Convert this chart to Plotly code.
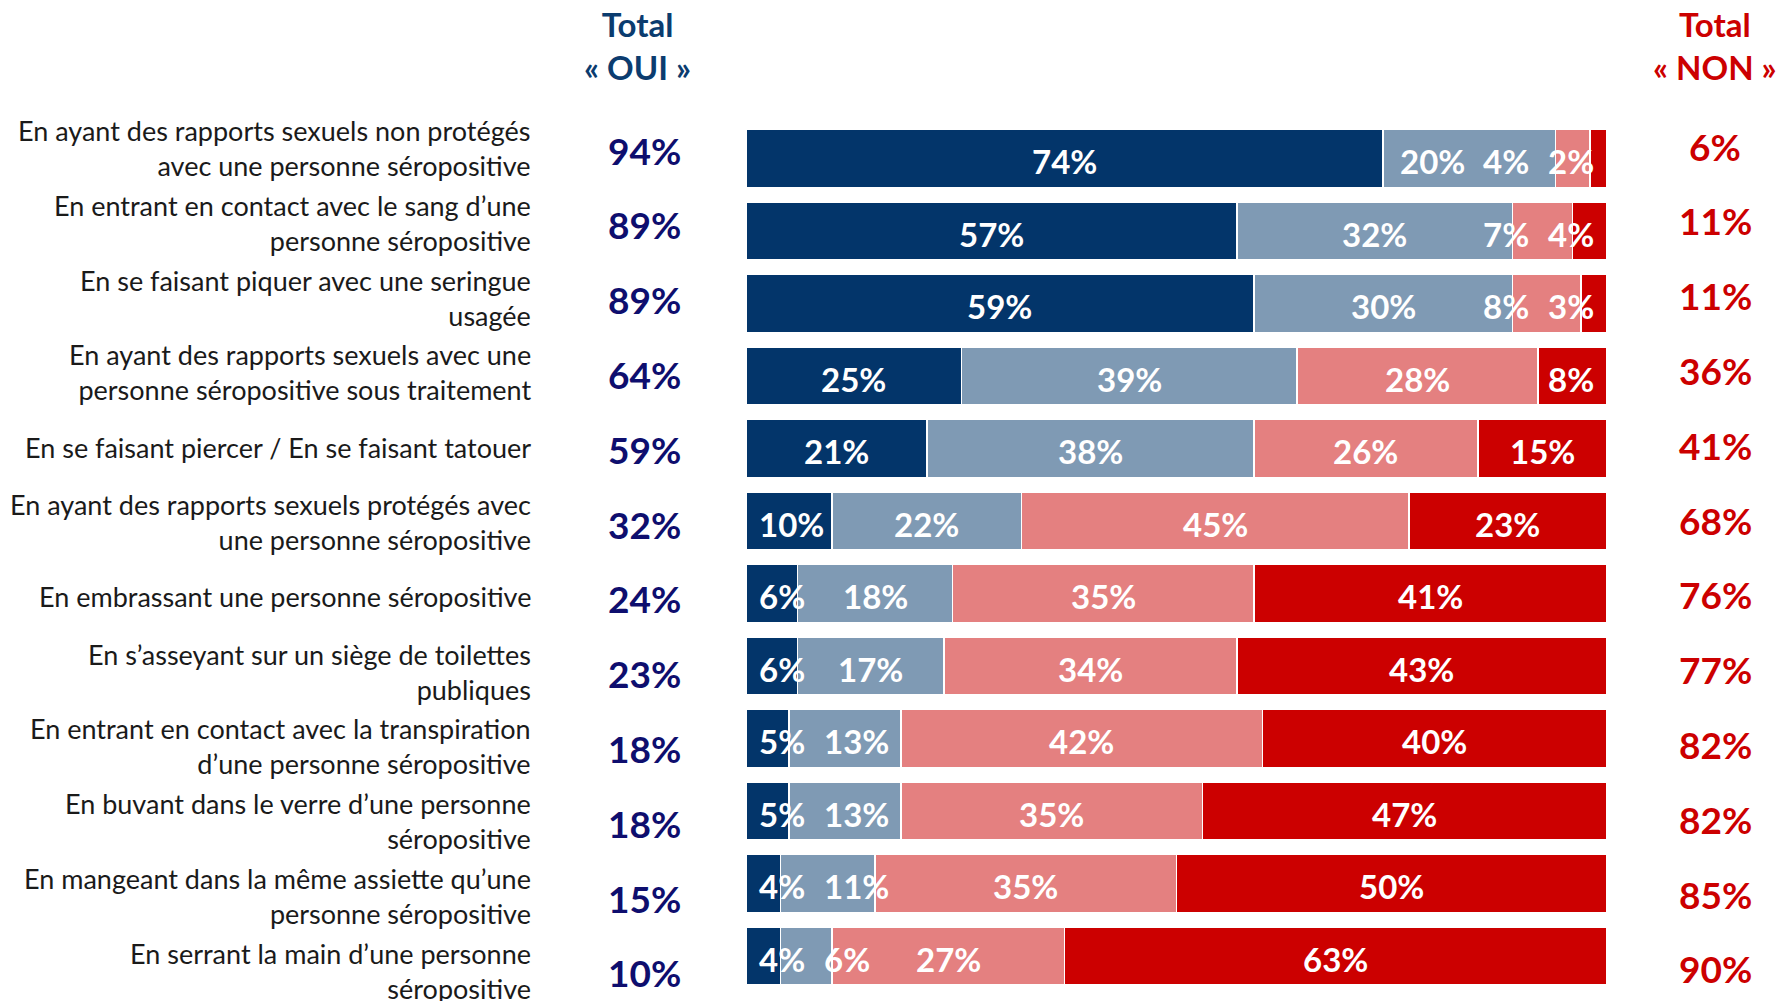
import plotly.graph_objects as go

# ---------------- data ----------------
categories = [
    "En ayant des rapports sexuels non protégés<br>avec une personne séropositive",
    "En entrant en contact avec le sang d’une<br>personne séropositive",
    "En se faisant piquer avec une seringue<br>usagée",
    "En ayant des rapports sexuels avec une<br>personne séropositive sous traitement",
    "En se faisant piercer / En se faisant tatouer",
    "En ayant des rapports sexuels protégés avec<br>une personne séropositive",
    "En embrassant une personne séropositive",
    "En s’asseyant sur un siège de toilettes<br>publiques",
    "En entrant en contact avec la transpiration<br>d’une personne séropositive",
    "En buvant dans le verre d’une personne<br>séropositive",
    "En mangeant dans la même assiette qu’une<br>personne séropositive",
    "En serrant la main d’une personne<br>séropositive",
]
oui_certain = [74, 57, 59, 25, 21, 10, 6, 6, 5, 5, 4, 4]
oui_plutot = [20, 32, 30, 39, 38, 22, 18, 17, 13, 13, 11, 6]
non_plutot = [4, 7, 8, 28, 26, 45, 35, 34, 42, 35, 35, 27]
non_certain = [2, 4, 3, 8, 15, 23, 41, 43, 40, 47, 50, 63]
total_oui = [94, 89, 89, 64, 59, 32, 24, 23, 18, 18, 15, 10]
total_non = [6, 11, 11, 36, 41, 68, 76, 77, 82, 82, 85, 90]

series = [oui_certain, oui_plutot, non_plutot, non_certain]
colors = ["#03356A", "#7F9AB4", "#E48080", "#CC0000"]

# ---------------- figure ----------------
W, H = 1777, 1001
ML, MR, MT, MB = 746, 170, 122, 9
plot_w = W - ML - MR
px_per_unit = plot_w / 100.0

FONT = "Lato"
fig = go.Figure()
n = len(categories)
idx = list(range(n))

for vals, col in zip(series, colors):
    fig.add_trace(go.Bar(
        x=vals, y=idx, orientation="h",
        marker=dict(color=col, line=dict(color="#FFFFFF", width=1.5)),
        hoverinfo="skip", showlegend=False,
    ))

annotations = []

# segment labels: start at segment centres, then nudge to avoid overlaps
LABEL_FS = 33
def label_w(v):
    s = f"{v}%"
    return (len(s) - 1) * 0.58 * LABEL_FS + 0.86 * LABEL_FS

pad, gap = 1.4, 2.0
for i in idx:
    vals = [s[i] for s in series]
    starts = [sum(vals[:k]) for k in range(4)]
    centers = [starts[k] + vals[k] / 2 for k in range(4)]
    widths = [label_w(v) / px_per_unit for v in vals]
    c = list(centers)
    c[0] = max(c[0], widths[0] / 2 + pad)
    for k in range(1, 4):
        c[k] = max(c[k], c[k - 1] + (widths[k - 1] + widths[k]) / 2 + gap)
    c[3] = min(c[3], 100 - widths[3] / 2 - pad)
    for k in range(2, -1, -1):
        c[k] = min(c[k], c[k + 1] - (widths[k] + widths[k + 1]) / 2 - gap)
    for k in range(4):
        annotations.append(dict(
            x=c[k], y=i, xref="x", yref="y", xanchor="center", yanchor="middle",
            yshift=-3, showarrow=False, text=f"<b>{vals[k]}%</b>",
            font=dict(family=FONT, size=LABEL_FS, color="#FFFFFF"),
        ))

for i in idx:
    annotations.append(dict(
        x=0, y=i, xref="x", yref="y2", xanchor="right", yanchor="middle",
        xshift=-213, align="right", showarrow=False, text=categories[i],
        font=dict(family=FONT, size=27, color="#1A1A1A"),
    ))
    annotations.append(dict(
        x=0, y=i, xref="x", yref="y2", xanchor="center", yanchor="middle",
        xshift=-102, yshift=-2, showarrow=False, text=f"<b>{total_oui[i]}%</b>",
        font=dict(family=FONT, size=37, color="#0E0E6E"),
    ))
    annotations.append(dict(
        x=100, y=i, xref="x", yref="y2", xanchor="center", yanchor="middle",
        xshift=108, yshift=2, showarrow=False, text=f"<b>{total_non[i]}%</b>",
        font=dict(family=FONT, size=37, color="#CC0000"),
    ))

plot_h = H - MT - MB
head_y = (H - MB - 45) / plot_h
annotations.append(dict(
    x=0, y=head_y, xref="x", yref="paper", xanchor="center", yanchor="middle",
    xshift=-109, showarrow=False, text="<b>Total<br>« OUI »</b>",
    font=dict(family=FONT, size=33, color="#0B3C6F"),
))
annotations.append(dict(
    x=100, y=head_y, xref="x", yref="paper", xanchor="center", yanchor="middle",
    xshift=108, showarrow=False, text="<b>Total<br>« NON »</b>",
    font=dict(family=FONT, size=33, color="#CC0000"),
))

fig.update_layout(
    width=W, height=H, barmode="stack", bargap=0.2,
    margin=dict(l=ML, r=MR, t=MT, b=MB, pad=0),
    paper_bgcolor="#FFFFFF", plot_bgcolor="#FFFFFF",
    xaxis=dict(range=[0, 100], visible=False, fixedrange=True),
    yaxis=dict(range=[n - 0.5, -0.5], visible=False, fixedrange=True),
    yaxis2=dict(range=[11.283, -0.348], overlaying="y", visible=False, fixedrange=True),
    annotations=annotations,
    font=dict(family=FONT),
)
# dummy invisible trace so yaxis2 exists
fig.add_trace(go.Scatter(x=[None], y=[None], yaxis="y2", showlegend=False, hoverinfo="skip"))

fig.write_html(
    "out.html",
    config={"displayModeBar": False},
    post_script="document.body.style.margin='0';document.body.style.overflow='hidden';",
)
